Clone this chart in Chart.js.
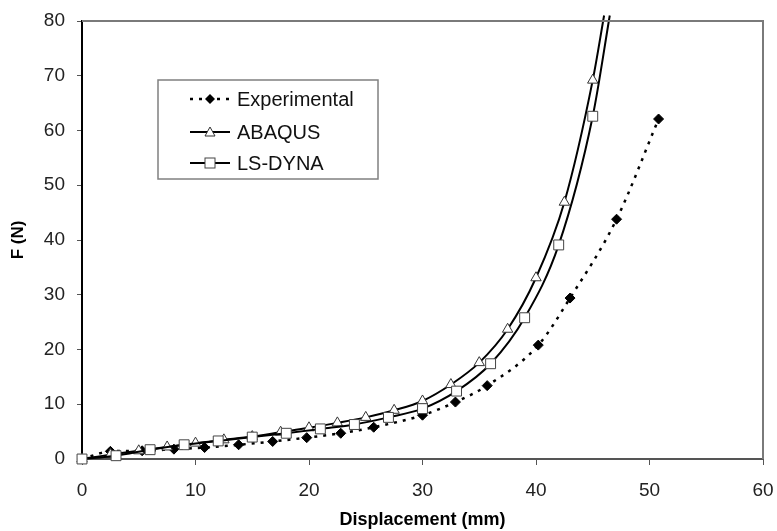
<!DOCTYPE html>
<html>
<head>
<meta charset="utf-8">
<script src="https://cdn.jsdelivr.net/npm/chart.js@4.4.1/dist/chart.umd.min.js"></script>
<style>
  html, body { margin: 0; padding: 0; background: #ffffff; }
  #wrap { width: 777px; height: 531px; }
</style>
</head>
<body>
<div id="wrap"><canvas id="c" width="777" height="531"></canvas></div>
<script>
// Force-displacement measurements and simulations
const expDisp   = [0, 2.5, 5.3, 8.1, 10.8, 13.8, 16.8, 19.8, 22.8, 25.7, 30.0, 32.9, 35.7, 40.2, 43.0, 47.1, 50.8];
const expForce  = [0, 1.4, 1.5, 1.8, 2.1, 2.6, 3.2, 3.9, 4.7, 5.8, 8.0, 10.4, 13.4, 20.8, 29.4, 43.8, 62.1];

const abqDisp   = [0, 2.5, 5, 7.5, 10, 12.5, 15, 17.5, 20, 22.5, 25, 27.5, 30, 32.5, 35, 37.5, 40, 42.5, 45, 46.0];
const abqForce  = [0, 0.8, 1.5, 2.2, 2.9, 3.5, 4.1, 4.9, 5.7, 6.6, 7.6, 8.9, 10.6, 13.6, 17.6, 23.7, 33.1, 46.9, 69.2, 81.0];

const dynaDisp  = [0, 3, 6, 9, 12, 15, 18, 21, 24, 27, 30, 33, 36, 39, 42, 45, 46.5];
const dynaForce = [0, 0.6, 1.7, 2.6, 3.3, 4.0, 4.7, 5.5, 6.3, 7.6, 9.2, 12.4, 17.4, 25.8, 39.1, 62.6, 81.0];

const xTicks = [0, 10, 20, 30, 40, 50, 60];
const yTicks = [0, 10, 20, 30, 40, 50, 60, 70, 80];

const seriesNames = ['Experimental', 'ABAQUS', 'LS-DYNA'];

const toPoints = (xs, ys) => xs.map((x, i) => ({ x: x, y: ys[i] }));
const Y_MAX = yTicks[yTicks.length - 1];
const hideAboveTop = r => ctx => (ctx.raw && ctx.raw.y > Y_MAX ? 0 : r);

const FONT = "'Liberation Sans', Arial, sans-serif";

// Frame on the top and right of the plot area plus the boxed legend
const framePlugin = {
  id: 'frame',
  afterDraw(chart) {
    const { ctx, chartArea: a } = chart;
    ctx.save();
    ctx.strokeStyle = '#7a7a7a';
    ctx.lineWidth = 2;
    ctx.beginPath();
    ctx.moveTo(a.left, a.top);
    ctx.lineTo(a.right, a.top);
    ctx.lineTo(a.right, a.bottom);
    ctx.stroke();

    // legend box
    const bx = 158, by = 80, bw = 220, bh = 99;
    ctx.fillStyle = '#ffffff';
    ctx.fillRect(bx, by, bw, bh);
    ctx.strokeStyle = '#808080';
    ctx.lineWidth = 1.5;
    ctx.strokeRect(bx, by, bw, bh);

    const rows = [99, 132, 163];
    const sx0 = 190, sx1 = 230, mx = 210, tx = 237;
    ctx.font = '20px ' + FONT;
    ctx.textBaseline = 'middle';
    ctx.textAlign = 'left';

    // Experimental: dotted segment with filled diamond
    let y = rows[0];
    ctx.strokeStyle = '#000';
    ctx.lineWidth = 2.5;
    ctx.setLineDash([3, 6]);
    ctx.beginPath(); ctx.moveTo(sx0, y); ctx.lineTo(sx1, y); ctx.stroke();
    ctx.setLineDash([]);
    ctx.fillStyle = '#000';
    ctx.beginPath();
    ctx.moveTo(mx, y - 5); ctx.lineTo(mx + 5, y); ctx.lineTo(mx, y + 5); ctx.lineTo(mx - 5, y);
    ctx.closePath(); ctx.fill();
    ctx.fillStyle = '#111';
    ctx.fillText(seriesNames[0], tx, y + 1);

    // ABAQUS: solid line with open triangle
    y = rows[1];
    ctx.strokeStyle = '#000';
    ctx.lineWidth = 2;
    ctx.beginPath(); ctx.moveTo(sx0, y); ctx.lineTo(sx1, y); ctx.stroke();
    ctx.fillStyle = '#fff';
    ctx.strokeStyle = '#333';
    ctx.lineWidth = 1;
    ctx.beginPath();
    ctx.moveTo(mx, y - 5); ctx.lineTo(mx + 5, y + 4); ctx.lineTo(mx - 5, y + 4);
    ctx.closePath(); ctx.fill(); ctx.stroke();
    ctx.fillStyle = '#111';
    ctx.fillText(seriesNames[1], tx, y + 1);

    // LS-DYNA: solid line with open square
    y = rows[2];
    ctx.strokeStyle = '#000';
    ctx.lineWidth = 2;
    ctx.beginPath(); ctx.moveTo(sx0, y); ctx.lineTo(sx1, y); ctx.stroke();
    ctx.fillStyle = '#fff';
    ctx.strokeStyle = '#444';
    ctx.lineWidth = 1;
    ctx.fillRect(mx - 5, y - 5, 10, 10);
    ctx.strokeRect(mx - 5, y - 5, 10, 10);
    ctx.fillStyle = '#111';
    ctx.fillText(seriesNames[2], tx, y + 1);
    ctx.restore();
  }
};

new Chart(document.getElementById('c'), {
  type: 'line',
  data: {
    datasets: [
      {
        label: seriesNames[0],
        data: toPoints(expDisp, expForce),
        borderColor: '#000',
        borderWidth: 2.5,
        borderDash: [3, 6],
        pointStyle: 'rectRot',
        pointRadius: 5,
        pointBackgroundColor: '#000',
        pointBorderColor: '#000',
        pointBorderWidth: 1,
        cubicInterpolationMode: 'monotone',
        clip: 6,
        order: 3
      },
      {
        label: seriesNames[1],
        data: toPoints(abqDisp, abqForce),
        borderColor: '#000',
        borderWidth: 2,
        pointStyle: 'triangle',
        pointRadius: hideAboveTop(6),
        pointBackgroundColor: '#fff',
        pointBorderColor: '#333',
        pointBorderWidth: 1,
        cubicInterpolationMode: 'monotone',
        clip: 6,
        order: 2
      },
      {
        label: seriesNames[2],
        data: toPoints(dynaDisp, dynaForce),
        borderColor: '#000',
        borderWidth: 2,
        pointStyle: 'rect',
        pointRadius: hideAboveTop(7),
        pointBackgroundColor: '#fff',
        pointBorderColor: '#444',
        pointBorderWidth: 1,
        cubicInterpolationMode: 'monotone',
        clip: 6,
        order: 1
      }
    ]
  },
  options: {
    responsive: false,
    animation: false,
    devicePixelRatio: 1,
    layout: { padding: { top: 21, right: 14, left: 0, bottom: 0 } },
    plugins: { legend: { display: false }, tooltip: { enabled: false } },
    scales: {
      x: {
        type: 'linear',
        min: xTicks[0],
        max: xTicks[xTicks.length - 1],
        afterBuildTicks: s => { s.ticks = xTicks.map(v => ({ value: v })); },
        afterFit: s => { s.height = 72; s.paddingLeft = 0; s.paddingRight = 0; },
        border: { display: true, color: '#555', width: 2 },
        grid: { drawOnChartArea: false, drawTicks: true, tickLength: 6, color: '#555', tickWidth: 1 },
        ticks: { color: '#222', font: { family: FONT, size: 19 }, padding: 14, maxRotation: 0 },
        title: { display: true, text: 'Displacement (mm)', color: '#000',
                 font: { family: FONT, size: 18, weight: 'bold' }, padding: { top: 0, bottom: 0 } }
      },
      y: {
        type: 'linear',
        min: yTicks[0],
        max: Y_MAX,
        afterBuildTicks: s => { s.ticks = yTicks.map(v => ({ value: v })); },
        afterFit: s => { s.width = 82; s.paddingTop = 0; s.paddingBottom = 0; },
        border: { display: true, color: '#000', width: 2 },
        grid: { drawOnChartArea: false, drawTicks: true, tickLength: 5, color: '#555', tickWidth: 1 },
        ticks: { color: '#222', font: { family: FONT, size: 19 }, padding: 12 },
        title: { display: true, text: 'F (N)', color: '#000',
                 font: { family: FONT, size: 17, weight: 'bold' }, padding: { top: 8, bottom: 0 } }
      }
    }
  },
  plugins: [framePlugin]
});
</script>
</body>
</html>
